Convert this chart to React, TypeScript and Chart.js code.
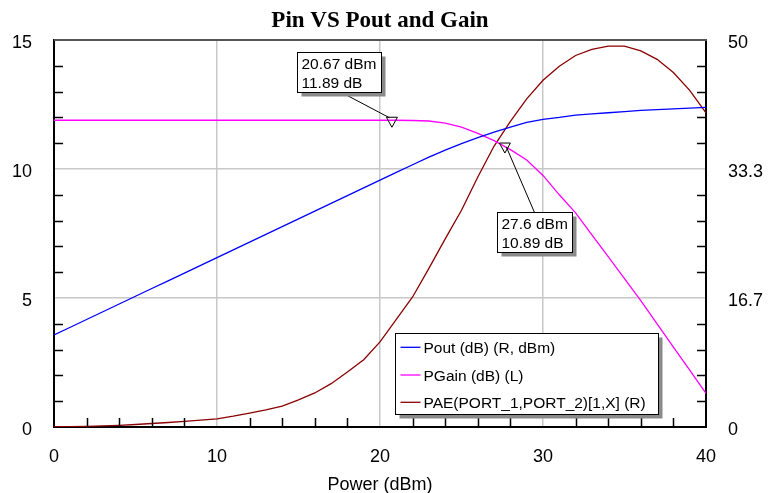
import React, { useEffect, useRef } from "react";
import { Chart, registerables } from "chart.js";

Chart.register(...registerables);

// ---------- data ----------
const pinDbm = [
  0, 1, 2, 3, 4, 5, 6, 7, 8, 9, 10, 11, 12, 13, 14, 15, 16, 17, 18, 19, 20,
  21, 22, 23, 24, 25, 26, 27, 28, 29, 30, 31, 32, 33, 34, 35, 36, 37, 38, 39, 40,
];
const poutDbm = [
  11.89, 12.89, 13.89, 14.89, 15.89, 16.89, 17.89, 18.89, 19.89, 20.89, 21.89,
  22.89, 23.89, 24.89, 25.89, 26.89, 27.89, 28.89, 29.89, 30.89, 31.89,
  32.89, 33.88, 34.86, 35.78, 36.62, 37.38, 38.1, 38.75, 39.35, 39.75,
  40.0, 40.3, 40.45, 40.6, 40.75, 40.9, 41.0, 41.1, 41.2, 41.3,
];
const pGainDb = [
  11.89, 11.89, 11.89, 11.89, 11.89, 11.89, 11.89, 11.89, 11.89, 11.89, 11.89,
  11.89, 11.89, 11.89, 11.89, 11.89, 11.89, 11.89, 11.89, 11.89, 11.89,
  11.89, 11.88, 11.86, 11.78, 11.62, 11.38, 11.1, 10.75, 10.35, 9.75,
  9.0, 8.3, 7.45, 6.6, 5.75, 4.9, 4.0, 3.1, 2.2, 1.3,
];
const paePct = [
  0.03, 0.05, 0.09, 0.15, 0.22, 0.32, 0.45, 0.58, 0.72, 0.88, 1.05,
  1.4, 1.8, 2.2, 2.7, 3.5, 4.4, 5.6, 7.1, 8.7, 11.0,
  13.9, 16.8, 20.5, 24.3, 28.0, 32.3, 36.3, 39.5, 42.4, 44.8,
  46.6, 48.0, 48.8, 49.2, 49.2, 48.6, 47.5, 45.8, 43.5, 40.6,
];

const seriesLabels = ["Pout (dB) (R, dBm)", "PGain (dB) (L)", "PAE(PORT_1,PORT_2)[1,X] (R)"];
const seriesColors = ["#0000ff", "#ff00ff", "#8b0000"];

const xTickValues = [0, 10, 20, 30, 40];
const xMinorTicks = [2, 4, 6, 8, 12, 14, 16, 18, 22, 24, 26, 28, 32, 34, 36, 38];
const leftTickValues = [0, 5, 10, 15];
const leftMinorTicks = [1, 2, 3, 4, 6, 7, 8, 9, 11, 12, 13, 14];
const rightTickValues = [0, 16.66667, 33.33333, 50];
const rightTickLabels = ["0", "16.7", "33.3", "50"];

const markerX = [20.67, 27.6];
const markerY = [11.89, 10.89];
const markerText = [
  ["20.67 dBm", "11.89 dB"],
  ["27.6 dBm", "10.89 dB"],
];

const titleText = "Pin VS Pout and Gain";
const xAxisTitle = "Power (dBm)";

// ---------- layout (pixels) ----------
const W = 769;
const H = 493;
const SANS = '"Liberation Sans", Arial, sans-serif';
const markerLayout = [
  { dx: -94, dy: -68, fromX: 46, fromY: 41, toX: -1.5, toY: -2.5 },
  { dx: -7, dy: 66, fromX: 37, fromY: 0, toX: 2.5, toY: 1 },
];

const overlayPlugin = {
  id: "overlay",
  afterDraw(chart: any) {
    const { ctx, chartArea: ca, scales } = chart;
    const xs = scales.x;
    const yl = scales.y;
    ctx.save();

    // top frame
    ctx.strokeStyle = "#555";
    ctx.lineWidth = 2;
    ctx.beginPath();
    ctx.moveTo(ca.left, ca.top);
    ctx.lineTo(ca.right + 1, ca.top);
    ctx.stroke();

    // minor ticks (inside)
    ctx.strokeStyle = "#000";
    ctx.lineWidth = 1.5;
    ctx.beginPath();
    for (const v of xMinorTicks) {
      const px = Math.round(xs.getPixelForValue(v)) + 0.5;
      ctx.moveTo(px, ca.bottom);
      ctx.lineTo(px, ca.bottom - 9);
    }
    for (const v of leftMinorTicks) {
      const py = Math.round(yl.getPixelForValue(v)) + 0.5;
      ctx.moveTo(ca.left, py);
      ctx.lineTo(ca.left + 9, py);
      ctx.moveTo(ca.right, py);
      ctx.lineTo(ca.right - 9, py);
    }
    ctx.stroke();

    // title
    ctx.fillStyle = "#000";
    ctx.font = 'bold 23px "Liberation Serif", "Times New Roman", serif';
    ctx.textAlign = "center";
    ctx.textBaseline = "alphabetic";
    ctx.fillText(titleText, (ca.left + ca.right) / 2, 27);

    // x axis title
    ctx.font = `18px ${SANS}`;
    ctx.fillText(xAxisTitle, (ca.left + ca.right) / 2, 490);

    // markers + annotation boxes
    ctx.font = `15.5px ${SANS}`;
    ctx.textAlign = "left";
    markerX.forEach((mx, i) => {
      const px = xs.getPixelForValue(mx);
      const py = yl.getPixelForValue(markerY[i]);
      const L = markerLayout[i];
      const lines = markerText[i];
      const tw = Math.max(...lines.map((t) => ctx.measureText(t).width));
      const bw = Math.round(tw + 9);
      const bh = 40;
      const bx = Math.round(px + L.dx) + 0.5;
      const by = Math.round(py + L.dy) + 0.5;

      // leader line
      ctx.strokeStyle = "#000";
      ctx.lineWidth = 1;
      ctx.beginPath();
      ctx.moveTo(bx + L.fromX, by + L.fromY);
      ctx.lineTo(px + L.toX, py + L.toY);
      ctx.stroke();

      // triangle
      ctx.beginPath();
      ctx.moveTo(px - 4.5, py - 3);
      ctx.lineTo(px + 6.5, py - 3);
      ctx.lineTo(px + 1, py + 7);
      ctx.closePath();
      ctx.stroke();

      // box
      ctx.fillStyle = "#8a8a8a";
      ctx.fillRect(bx + 4, by + 4, bw, bh);
      ctx.fillStyle = "#fff";
      ctx.fillRect(bx, by, bw, bh);
      ctx.strokeRect(bx, by, bw, bh);
      ctx.fillStyle = "#000";
      ctx.fillText(lines[0], bx + 4, by + 16.5);
      ctx.fillText(lines[1], bx + 4, by + 35);
    });

    // legend
    const lx = Math.round(ca.right - 311) + 0.5;
    const ly = Math.round(ca.bottom - 94) + 0.5;
    const lw = 263;
    const lh = 81;
    ctx.fillStyle = "#8a8a8a";
    ctx.fillRect(lx + 4, ly + 4, lw, lh);
    ctx.fillStyle = "#fff";
    ctx.fillRect(lx, ly, lw, lh);
    ctx.strokeStyle = "#000";
    ctx.lineWidth = 1;
    ctx.strokeRect(lx, ly, lw, lh);
    const rowBase = [19.3, 47, 74.3];
    seriesLabels.forEach((lab, i) => {
      const base = ly + rowBase[i];
      ctx.strokeStyle = seriesColors[i];
      ctx.lineWidth = 1.3;
      ctx.beginPath();
      ctx.moveTo(lx + 5, base - 5.5);
      ctx.lineTo(lx + 25, base - 5.5);
      ctx.stroke();
      ctx.fillStyle = "#000";
      ctx.fillText(lab, lx + 28, base);
    });

    ctx.restore();
  },
};

export default function App() {
  const ref = useRef<HTMLCanvasElement | null>(null);

  useEffect(() => {
    if (!ref.current) return;
    const tickFont = { family: SANS, size: 18 };
    const gridColor = "#c8c8c8";
    const chart = new Chart(ref.current, {
      type: "line",
      data: {
        datasets: [
          {
            label: seriesLabels[0],
            data: pinDbm.map((x, i) => ({ x, y: poutDbm[i] })),
            borderColor: seriesColors[0],
            borderWidth: 1.3,
            pointRadius: 0,
            tension: 0,
            yAxisID: "yR",
          },
          {
            label: seriesLabels[1],
            data: pinDbm.map((x, i) => ({ x, y: pGainDb[i] })),
            borderColor: seriesColors[1],
            borderWidth: 1.3,
            pointRadius: 0,
            tension: 0,
            yAxisID: "y",
          },
          {
            label: seriesLabels[2],
            data: pinDbm.map((x, i) => ({ x, y: paePct[i] })),
            borderColor: seriesColors[2],
            borderWidth: 1.3,
            pointRadius: 0,
            tension: 0,
            yAxisID: "yR",
          },
        ],
      },
      options: {
        animation: false,
        responsive: true,
        maintainAspectRatio: false,
        layout: { padding: { top: 40, left: 0, right: 0, bottom: 0 } },
        plugins: {
          legend: { display: false },
          title: { display: false },
          tooltip: { enabled: false },
        },
        scales: {
          x: {
            type: "linear",
            min: 0,
            max: 40,
            afterBuildTicks: (s: any) => {
              s.ticks = xTickValues.map((v) => ({ value: v }));
            },
            afterFit: (s: any) => {
              s.height = 66;
            },
            ticks: { font: tickFont, color: "#000", padding: 19, maxRotation: 0, autoSkip: false },
            grid: { color: gridColor, lineWidth: 1.5, drawTicks: false },
            border: { color: "#000", width: 2 },
          },
          y: {
            type: "linear",
            position: "left",
            min: 0,
            max: 15,
            afterBuildTicks: (s: any) => {
              s.ticks = leftTickValues.map((v) => ({ value: v }));
            },
            afterFit: (s: any) => {
              s.width = 54;
            },
            ticks: { font: tickFont, color: "#000", padding: 22, labelOffset: 3.5, autoSkip: false },
            grid: { color: gridColor, lineWidth: 1.5, drawTicks: false },
            border: { color: "#000", width: 2 },
          },
          yR: {
            type: "linear",
            position: "right",
            min: 0,
            max: 50,
            afterBuildTicks: (s: any) => {
              s.ticks = rightTickValues.map((v) => ({ value: v }));
            },
            afterFit: (s: any) => {
              s.width = 63;
            },
            ticks: {
              font: tickFont,
              color: "#000",
              padding: 22,
              labelOffset: 3.5,
              autoSkip: false,
              callback: (_v: any, i: number) => rightTickLabels[i],
            },
            grid: { display: false, drawTicks: false },
            border: { color: "#000", width: 2 },
          },
        },
      },
      plugins: [overlayPlugin],
    });
    return () => chart.destroy();
  }, []);

  return (
    <div
      style={{
        position: "absolute",
        left: 0,
        top: 0,
        width: W,
        height: H,
        background: "#fff",
      }}
    >
      <canvas ref={ref} />
    </div>
  );
}
